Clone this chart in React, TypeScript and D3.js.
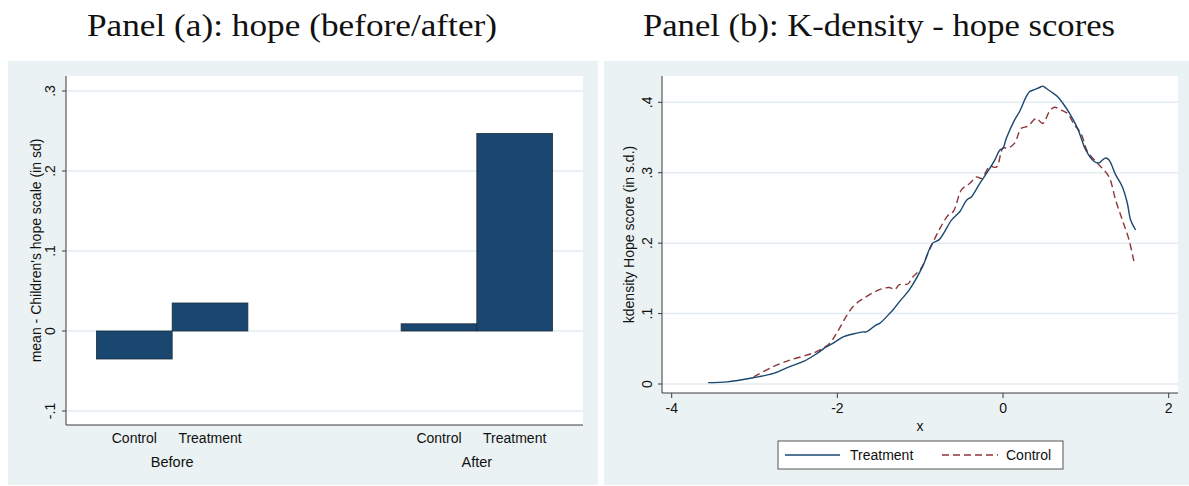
import React from 'react';
import * as d3 from 'd3';

// panel (a): mean hope score by period and group
const periods = ['Before', 'After'];
const groups = ['Control', 'Treatment'];
const meanBefore = [-0.035, 0.035];
const meanAfter = [0.009, 0.247];
const barTicks = [-0.1, 0, 0.1, 0.2, 0.3];

// panel (b): kernel density of hope scores
const treatX = [-3.56, -3.33, -3.01, -2.77, -2.59, -2.41, -2.25, -2.13, -2.05, -1.93, -1.81, -1.69, -1.65, -1.53, -1.49, -1.37, -1.33, -1.25, -1.13, -0.97, -0.85, -0.77, -0.62, -0.52, -0.44, -0.38, -0.28, -0.2, -0.1, -0.04, 0.0, 0.04, 0.14, 0.2, 0.28, 0.32, 0.38, 0.44, 0.48, 0.52, 0.58, 0.66, 0.72, 0.8, 0.9, 1.0, 1.1, 1.16, 1.2, 1.24, 1.28, 1.36, 1.44, 1.5, 1.54, 1.6];
const treatY = [0.002, 0.003, 0.009, 0.015, 0.024, 0.032, 0.043, 0.053, 0.058, 0.067, 0.071, 0.074, 0.074, 0.084, 0.086, 0.1, 0.105, 0.117, 0.134, 0.167, 0.2, 0.205, 0.233, 0.245, 0.261, 0.266, 0.285, 0.299, 0.318, 0.332, 0.335, 0.349, 0.375, 0.387, 0.408, 0.415, 0.418, 0.421, 0.423, 0.42, 0.415, 0.408, 0.399, 0.385, 0.363, 0.332, 0.316, 0.314, 0.318, 0.321, 0.318, 0.297, 0.28, 0.257, 0.233, 0.219];
const ctrlX = [-3.01, -2.77, -2.57, -2.37, -2.25, -2.09, -2.01, -1.81, -1.65, -1.49, -1.37, -1.31, -1.25, -1.15, -1.09, -0.99, -0.89, -0.77, -0.66, -0.6, -0.5, -0.4, -0.32, -0.26, -0.16, -0.08, 0.0, 0.06, 0.14, 0.22, 0.3, 0.4, 0.48, 0.56, 0.62, 0.7, 0.78, 0.86, 0.94, 1.02, 1.12, 1.2, 1.28, 1.36, 1.44, 1.52, 1.58];
const ctrlY = [0.01, 0.025, 0.034, 0.041, 0.046, 0.058, 0.072, 0.11, 0.124, 0.134, 0.137, 0.134, 0.141, 0.142, 0.152, 0.164, 0.19, 0.219, 0.24, 0.245, 0.276, 0.285, 0.294, 0.292, 0.309, 0.308, 0.335, 0.335, 0.342, 0.363, 0.366, 0.377, 0.37, 0.387, 0.393, 0.389, 0.384, 0.368, 0.356, 0.33, 0.316, 0.306, 0.294, 0.261, 0.233, 0.205, 0.174];
const densXTicks = [-4, -2, 0, 2];
const densYTicks = [0, 0.1, 0.2, 0.3, 0.4];

const BG = '#eaf2f3';
const GRID = '#e3ecf0';
const AXIS = '#3a3a3a';
const NAVY = '#1a476f';
const MAROON = '#90353b';
const SANS = '"Liberation Sans", Arial, Helvetica, sans-serif';
const SERIF = '"Liberation Serif", "Times New Roman", serif';

const fmt = (v: number) => {
  if (v === 0) return '0';
  const s = String(Math.round(v * 10) / 10);
  return s.replace('0.', '.');
};

function BarPanel() {
  const L = 66, R = 583, T = 76, B = 425;
  const y = d3.scaleLinear().domain([-0.1, 0.3]).range([411, 91]);
  const xOuter = d3.scaleBand().domain(periods).range([L, R]).paddingInner(0.503).paddingOuter(0.1);
  const xInner = d3.scaleBand().domain(groups).range([0, xOuter.bandwidth()]);
  const vals = [meanBefore, meanAfter];

  return (
    <g>
      <rect x={8} y={61} width={590} height={424} fill={BG} />
      <rect x={L} y={T} width={R - L} height={B - T} fill="#fff" />
      {barTicks.map(t => (
        <line key={t} x1={L} x2={R} y1={y(t)} y2={y(t)} stroke={GRID} strokeWidth={1.5} />
      ))}
      {periods.map((p, i) => (
        <g key={p}>
          {groups.map((g, j) => {
            const v = vals[i][j];
            const x0 = (xOuter(p) as number) + (xInner(g) as number);
            return (
              <rect key={g} x={x0} y={Math.min(y(v), y(0))} width={xInner.bandwidth()}
                height={Math.abs(y(v) - y(0))} fill={NAVY} stroke="#1c2f40" strokeWidth={0.8} />
            );
          })}
          {groups.map(g => (
            <text key={g} x={(xOuter(p) as number) + (xInner(g) as number) + xInner.bandwidth() / 2}
              y={443} textAnchor="middle" fontFamily={SANS} fontSize={14} fill="#111">{g}</text>
          ))}
          <text x={(xOuter(p) as number) + xOuter.bandwidth() / 2} y={467} textAnchor="middle"
            fontFamily={SANS} fontSize={14.5} fill="#111">{p}</text>
        </g>
      ))}
      <line x1={L} x2={L} y1={T} y2={B} stroke={AXIS} strokeWidth={1} />
      <line x1={L} x2={R} y1={B} y2={B} stroke={AXIS} strokeWidth={1} />
      {barTicks.map(t => (
        <g key={t}>
          <line x1={L - 4} x2={L} y1={y(t)} y2={y(t)} stroke={AXIS} />
          <text transform={`translate(55,${y(t)}) rotate(-90)`} textAnchor="middle"
            fontFamily={SANS} fontSize={14} fill="#111">{fmt(t)}</text>
        </g>
      ))}
      <text transform={`translate(41,${(T + B) / 2}) rotate(-90)`} textAnchor="middle"
        fontFamily={SANS} fontSize={14} fill="#111">mean - Children's hope scale (in sd)</text>
    </g>
  );
}

function DensityPanel() {
  const L = 662, R = 1178, T = 76, B = 393;
  const x = d3.scaleLinear().domain([-4, 2]).range([671.7, 1168.7]);
  const y = d3.scaleLinear().domain([0, 0.4]).range([384, 102.3]);
  const line = d3.line<number>().curve(d3.curveCatmullRom);
  const treat = line(treatX.map((v, i) => [x(v), y(treatY[i])]) as any);
  const ctrl = line(ctrlX.map((v, i) => [x(v), y(ctrlY[i])]) as any);

  return (
    <g>
      <rect x={604} y={61} width={585} height={424} fill={BG} />
      <rect x={L} y={T} width={R - L} height={B - T} fill="#fff" />
      {densYTicks.map(t => (
        <line key={t} x1={L} x2={R} y1={y(t)} y2={y(t)} stroke={GRID} strokeWidth={1.5} />
      ))}
      <path d={ctrl || ''} fill="none" stroke={MAROON} strokeWidth={1.4} strokeDasharray="7 4" />
      <path d={treat || ''} fill="none" stroke={NAVY} strokeWidth={1.4} />
      <line x1={L} x2={L} y1={T} y2={B} stroke={AXIS} strokeWidth={1} />
      <line x1={L} x2={R} y1={B} y2={B} stroke={AXIS} strokeWidth={1} />
      {densYTicks.map(t => (
        <g key={t}>
          <line x1={L - 4} x2={L} y1={y(t)} y2={y(t)} stroke={AXIS} />
          <text transform={`translate(652,${y(t)}) rotate(-90)`} textAnchor="middle"
            fontFamily={SANS} fontSize={14} fill="#111">{fmt(t)}</text>
        </g>
      ))}
      {densXTicks.map(t => (
        <g key={t}>
          <line x1={x(t)} x2={x(t)} y1={B} y2={B + 5} stroke={AXIS} />
          <text x={x(t)} y={413} textAnchor="middle" fontFamily={SANS} fontSize={14} fill="#111">{t}</text>
        </g>
      ))}
      <text x={(L + R) / 2} y={431} textAnchor="middle" fontFamily={SANS} fontSize={14} fill="#111">x</text>
      <text transform={`translate(634,${(T + B) / 2}) rotate(-90)`} textAnchor="middle"
        fontFamily={SANS} fontSize={14} fill="#111">kdensity Hope score (in s.d.)</text>
      <rect x={778} y={441} width={285} height={28} fill="#fff" stroke="#555" strokeWidth={1} />
      <line x1={785} x2={840} y1={455} y2={455} stroke={NAVY} strokeWidth={1.4} />
      <text x={850} y={460} fontFamily={SANS} fontSize={14} fill="#111">Treatment</text>
      <line x1={942} x2={998} y1={455} y2={455} stroke={MAROON} strokeWidth={1.4} strokeDasharray="7 4" />
      <text x={1006} y={460} fontFamily={SANS} fontSize={14} fill="#111">Control</text>
    </g>
  );
}

export default function App() {
  return (
    <svg width={1189} height={486} style={{ position: 'absolute', left: 0, top: 0, background: '#fff' }}>
      <text x={292} y={36} textAnchor="middle" fontFamily={SERIF} fontSize={32} fill="#111"
        textLength={410} lengthAdjust="spacingAndGlyphs">Panel (a): hope (before/after)</text>
      <text x={879} y={36} textAnchor="middle" fontFamily={SERIF} fontSize={32} fill="#111"
        textLength={472} lengthAdjust="spacingAndGlyphs">Panel (b): K-density - hope scores</text>
      <BarPanel />
      <DensityPanel />
    </svg>
  );
}
